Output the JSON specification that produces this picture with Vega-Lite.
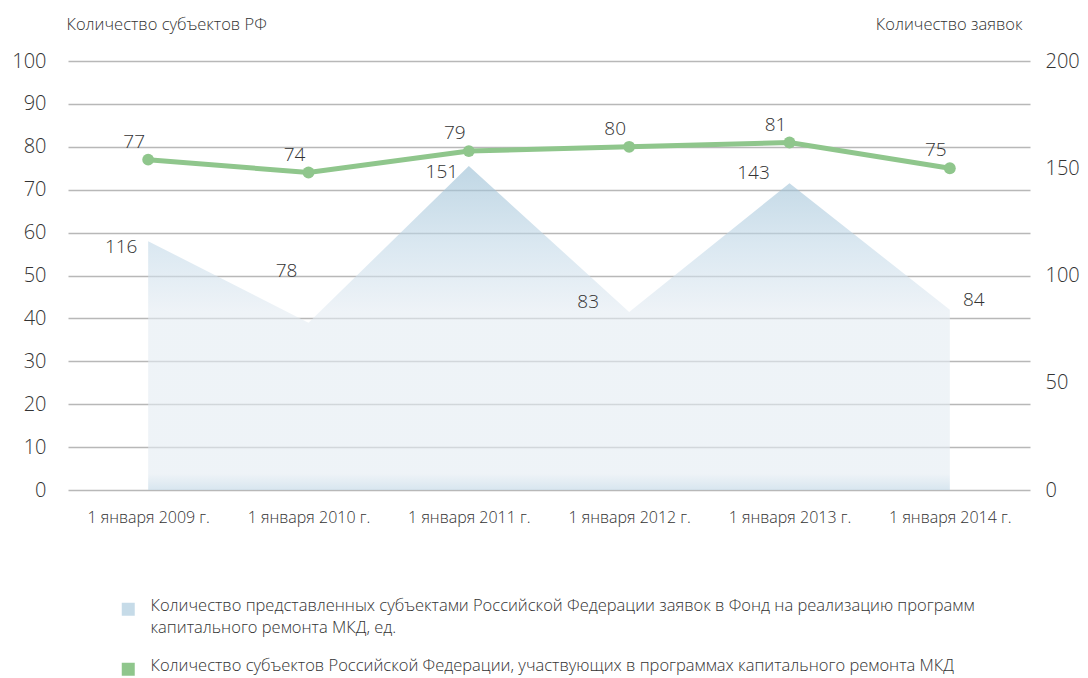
{
  "$schema": "https://vega.github.io/schema/vega-lite/v6.json",
  "width": 962,
  "height": 429,
  "autosize": {"type": "none"},
  "padding": {"left": 68, "top": 61, "right": 58, "bottom": 188},
  "background": "white",
  "config": {
    "font": "Open Sans",
    "view": {"stroke": null},
    "axis": {"labelColor": "#333333", "titleColor": "#333333", "labelFont": "Open Sans", "titleFont": "Open Sans", "labelFontWeight": 300, "titleFontWeight": 300},
    "legend": {"labelColor": "#333333", "labelFont": "Open Sans", "labelFontWeight": 300}
  },
  "data": {
    "values": [
      {"date": "1 января 2009 г.", "z": 116, "s": 77},
      {"date": "1 января 2010  г.", "z": 78, "s": 74},
      {"date": "1 января 2011  г.", "z": 151, "s": 79},
      {"date": "1 января 2012  г.", "z": 83, "s": 80},
      {"date": "1 января 2013 г.", "z": 143, "s": 81},
      {"date": "1 января 2014  г.", "z": 84, "s": 75}
    ]
  },
  "encoding": {
    "x": {
      "field": "date", "type": "ordinal", "sort": null,
      "scale": {"type": "point", "padding": 0.5},
      "axis": {"title": null, "labelAngle": 0, "ticks": false, "domain": false, "grid": false, "labelPadding": 19, "labelFontSize": 16}
    }
  },
  "layer": [
    {
      "encoding": {
        "y": {
          "field": "z", "type": "quantitative",
          "scale": {"domain": [0, 200], "nice": false},
          "axis": {
            "orient": "right", "grid": false, "values": [0, 50, 100, 150, 200],
            "domain": false, "ticks": false, "labelPadding": 15, "labelFontSize": 20,
            "title": "Количество заявок", "titleAngle": 0, "titleX": -8, "titleY": -37,
            "titleAlign": "right", "titleBaseline": "middle", "titleFontSize": 16.5
          }
        }
      },
      "layer": [
        {
          "mark": {
            "type": "area",
            "fill": {
              "gradient": "linear", "x1": 0, "y1": 0, "x2": 0, "y2": 1,
              "stops": [
                {"offset": 0, "color": "rgba(150,188,211,0.6)"},
                {"offset": 0.25, "color": "rgba(195,217,232,0.6)"},
                {"offset": 0.45, "color": "rgba(227,235,242,0.6)"},
                {"offset": 0.95, "color": "rgba(227,235,242,0.6)"},
                {"offset": 1, "color": "rgba(190,213,229,0.6)"}
              ]
            }
          }
        },
        {
          "mark": {
            "type": "text", "fontSize": 19, "fontWeight": 300, "color": "#333333", "align": "center", "baseline": "middle",
            "dx": {"expr": "datum.z == 84 ? 24 : datum.z == 83 ? -41 : datum.z == 143 ? -36 : datum.z == 78 ? -22 : -27"},
            "dy": {"expr": "datum.z == 78 ? -52 : (datum.z == 116 || datum.z == 151) ? 6 : -10"}
          },
          "encoding": {"text": {"field": "z", "type": "quantitative"}}
        }
      ]
    },
    {
      "encoding": {
        "y": {
          "field": "s", "type": "quantitative",
          "scale": {"domain": [0, 100], "nice": false},
          "axis": {
            "orient": "left", "grid": true, "gridColor": "#b8b8b8", "gridWidth": 1.3,
            "values": [0, 10, 20, 30, 40, 50, 60, 70, 80, 90, 100],
            "domain": false, "ticks": false, "labelPadding": 22, "labelFontSize": 20,
            "title": "Количество субъектов РФ", "titleAngle": 0, "titleX": -2, "titleY": -37,
            "titleAlign": "left", "titleBaseline": "middle", "titleFontSize": 16.5
          }
        }
      },
      "layer": [
        {"mark": {"type": "line", "color": "#8fc68c", "strokeWidth": 5}},
        {"mark": {"type": "point", "filled": true, "opacity": 1, "color": "#8fc68c", "size": 140}},
        {
          "mark": {"type": "text", "fontSize": 19, "fontWeight": 300, "color": "#333333", "align": "center", "baseline": "middle", "dx": -14, "dy": -18},
          "encoding": {"text": {"field": "s", "type": "quantitative"}}
        },
        {
          "data": {"values": [
            {"series": "Количество представленных субъектами Российской Федерации заявок в Фонд на реализацию программ|капитального ремонта МКД, ед."},
            {"series": "Количество субъектов Российской Федерации, участвующих в программах капитального ремонта МКД"}
          ]},
          "mark": {"type": "square", "opacity": 0},
          "encoding": {
            "x": null,
            "y": null,
            "color": {
              "field": "series", "type": "nominal",
              "scale": {
                "domain": [
                  "Количество представленных субъектами Российской Федерации заявок в Фонд на реализацию программ|капитального ремонта МКД, ед.",
                  "Количество субъектов Российской Федерации, участвующих в программах капитального ремонта МКД"
                ],
                "range": ["#c6dbe8", "#8fc68c"]
              },
              "legend": {
                "title": null, "orient": "none", "legendX": 52, "legendY": 540,
                "direction": "vertical", "symbolType": "square", "symbolSize": 169,
                "symbolOpacity": 1, "symbolStrokeWidth": 0, "labelFontSize": 16.5,
                "labelOffset": 14, "labelLimit": 1000, "rowPadding": 21,
                "labelExpr": "split(datum.label, '|')",
                "labelBaseline": "top",
                "encode": {"labels": {"update": {"lineHeight": {"value": 22}, "dy": {"value": -11}}}}
              }
            }
          }
        }
      ]
    }
  ],
  "resolve": {"scale": {"y": "independent"}, "axis": {"y": "independent"}}
}
